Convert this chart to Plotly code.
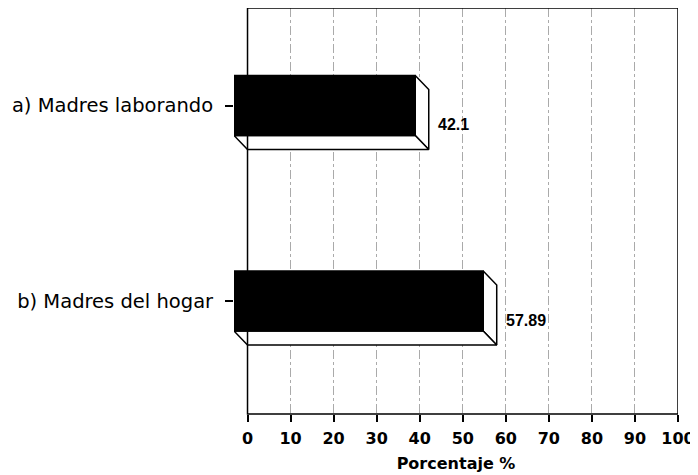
import plotly.graph_objects as go

categories = ["a) Madres laborando", "b) Madres del hogar"]
values = [42.1, 57.89]
value_labels = ["42.1", "57.89"]
x_ticks = list(range(0, 101, 10))
x_title = "Porcentaje %"

# category positions (top to bottom)
pos = [1, 0]
H = 0.307    # bar thickness (y units)
DX = 3.14    # 3D depth offset in x units
DY = 0.0716  # 3D depth offset in y units

fig = go.Figure()
line_style = dict(color="black", width=1.5)
for c, v in zip(pos, values):
    # right side face
    fig.add_trace(go.Scatter(
        x=[v - DX, v, v, v - DX, v - DX],
        y=[c + DY + H / 2, c + H / 2, c - H / 2, c + DY - H / 2, c + DY + H / 2],
        mode="lines", fill="toself", fillcolor="white", line=line_style,
        hoverinfo="skip", showlegend=False))
    # bottom face
    fig.add_trace(go.Scatter(
        x=[-DX, v - DX, v, 0, -DX],
        y=[c + DY - H / 2, c + DY - H / 2, c - H / 2, c - H / 2, c + DY - H / 2],
        mode="lines", fill="toself", fillcolor="white", line=line_style,
        hoverinfo="skip", showlegend=False))
    # front face
    fig.add_trace(go.Scatter(
        x=[-DX, v - DX, v - DX, -DX, -DX],
        y=[c + DY - H / 2, c + DY - H / 2, c + DY + H / 2, c + DY + H / 2, c + DY - H / 2],
        mode="lines", fill="toself", fillcolor="black", line=line_style,
        hoverinfo="skip", showlegend=False))

for c, v, t in zip(pos, values, value_labels):
    fig.add_annotation(x=v, y=c, text=t, showarrow=False, xanchor="left",
                       xshift=7, yshift=-5,
                       font=dict(family="Liberation Sans", size=16, color="black", weight="bold"))

fig.add_shape(type="rect", x0=0, x1=100, y0=0, y1=1, xref="x", yref="paper",
              line=dict(color="black", width=1.5), layer="above")

# page body has an 8px default margin; figure size/margins compensate for it
fig.update_layout(
    width=690, height=467,
    margin=dict(l=226, r=20, t=0, b=61, autoexpand=False),
    paper_bgcolor="white", plot_bgcolor="white",
    font=dict(family="DejaVu Sans", color="black"),
    xaxis=dict(range=[-DX, 100], tickvals=x_ticks, ticktext=[str(t) for t in x_ticks],
               ticks="outside", ticklen=7, tickwidth=1.5, tickcolor="black",
               ticklabelstandoff=3,
               showline=False, zeroline=False, automargin=False,
               showgrid=True, gridcolor="#aaaaaa", griddash="dashdot", gridwidth=1,
               tickfont=dict(size=16, weight="bold"),
               title=dict(text=x_title, font=dict(size=16, weight="bold"), standoff=10)),
    yaxis=dict(range=[-0.5064, 1.5703], tickvals=[c + DY for c in pos], ticktext=categories,
               ticks="outside", ticklen=8, tickwidth=1.5, tickcolor="black",
               ticklabelstandoff=8, automargin=False,
               showline=False, zeroline=False, showgrid=False,
               tickfont=dict(size=19.5)),
)

fig.write_html("out.html")
